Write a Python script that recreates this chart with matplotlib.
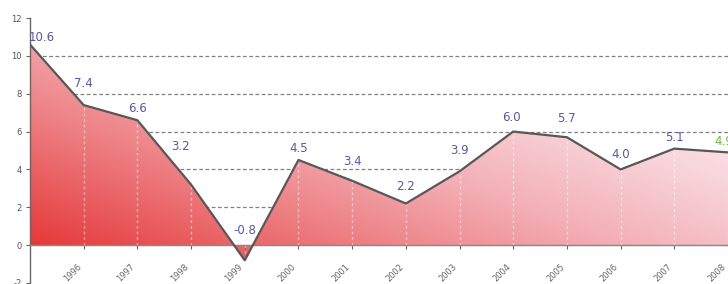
import numpy as np
import matplotlib
matplotlib.use("Agg")
import matplotlib.pyplot as plt
import matplotlib.transforms as mtransforms
from matplotlib.colors import LinearSegmentedColormap
from matplotlib.patches import Polygon

years = [1995, 1996, 1997, 1998, 1999, 2000, 2001, 2002, 2003, 2004, 2005, 2006, 2007, 2008]
values = [10.6, 7.4, 6.6, 3.2, -0.8, 4.5, 3.4, 2.2, 3.9, 6.0, 5.7, 4.0, 5.1, 4.9]
labels = ["10.6", "7.4", "6.6", "3.2", "-0.8", "4.5", "3.4", "2.2", "3.9", "6.0", "5.7", "4.0", "5.1", "4.9"]
yticks = [-2, 0, 2, 4, 6, 8, 10, 12]

# label offsets in pixels (style, not data)
label_offsets = [(12, 1), (0, 15), (0, 5), (-11, 32), (0, 23), (0, 5), (0, 13), (0, 10),
                 (0, 14), (-2, 8), (0, 12), (0, 8), (0, 5), (-4, 4)]
label_colors = ["#5656b0"] * 13 + ["#6cb83c"]

W, H = 728, 284
fig = plt.figure(figsize=(W / 100, H / 100), dpi=100)
ax = fig.add_axes([30 / W, 1 / H, 1 - 30 / W, 265 / H])

x = np.arange(len(years))
XMAX = 12.885

# gradient fill clipped to area
cmap = LinearSegmentedColormap.from_list(
    "g", [(0.0, "#e42f2f"), (0.35, "#ee8488"), (0.55, "#f3b0b6"),
          (0.78, "#f8d6dc"), (1.0, "#fdf0f2")])
nx, ny = 300, 200
gx, gy = np.meshgrid(np.linspace(0, 1, nx), np.linspace(0, 1, ny))
t = np.clip(0.62 * gx + 0.5 * gy, 0, 1)
img = ax.imshow(t, cmap=cmap, vmin=0, vmax=1, origin="lower",
                extent=(0, 13.5, -1, 11), aspect="auto", zorder=1, interpolation="bilinear")
ax.set_xlim(0, XMAX)
ax.set_ylim(-2, 12)
poly_pts = [(0, 0)] + list(zip(x, values)) + [(x[-1], 0)]
poly = Polygon(poly_pts, closed=True, facecolor="none", edgecolor="none")
ax.add_patch(poly)
img.set_clip_path(poly)

# horizontal dashed gridlines
for yv in [2, 4, 6, 8, 10]:
    ax.axhline(yv, color="#808080", lw=0.9, ls=(0, (3, 2)), zorder=0.5)

# vertical white dotted lines inside area
for xi, v in zip(x[1:], values[1:]):
    ax.plot([xi, xi], [0, v], color="white", lw=0.9, ls=(0, (2, 2.5)), alpha=0.6, zorder=2)

# outline line
ax.plot(x, values, color="#585858", lw=1.6, zorder=3, solid_joinstyle="round")
ax.axhline(0, color="#8a8a8a", lw=1.0, zorder=2.5)

for xi, v, lab, off, c in zip(x, values, labels, label_offsets, label_colors):
    ax.annotate(lab, (xi, v), xytext=off, textcoords="offset pixels",
                ha="center", va="bottom", fontsize=8.5, color=c, zorder=4)

# axes styling
for s in ["top", "right"]:
    ax.spines[s].set_visible(False)
ax.spines["bottom"].set_position(("data", 0))
ax.spines["bottom"].set_color("#8a8a8a")
ax.spines["left"].set_color("#666666")
ax.spines["left"].set_linewidth(1.0)
ax.set_yticks(yticks)
ax.set_yticklabels([str(v) for v in yticks], fontsize=6, color="#555555")
ax.tick_params(axis="y", length=3, width=0.8, color="#666666", pad=3)
ax.set_xticks(x[1:])
ax.set_xticklabels([str(yv) for yv in years[1:]], fontsize=6, color="#666666",
                   rotation=45, ha="right", va="top", rotation_mode="anchor")
ax.tick_params(axis="x", length=3, width=0.8, color="#666666", pad=9)
shift = mtransforms.ScaledTranslation(-7 / 100, 0, fig.dpi_scale_trans)
for lbl in ax.get_xticklabels():
    lbl.set_transform(lbl.get_transform() + shift)
ax.set_facecolor("white")

fig.savefig("out.png", dpi=100)
